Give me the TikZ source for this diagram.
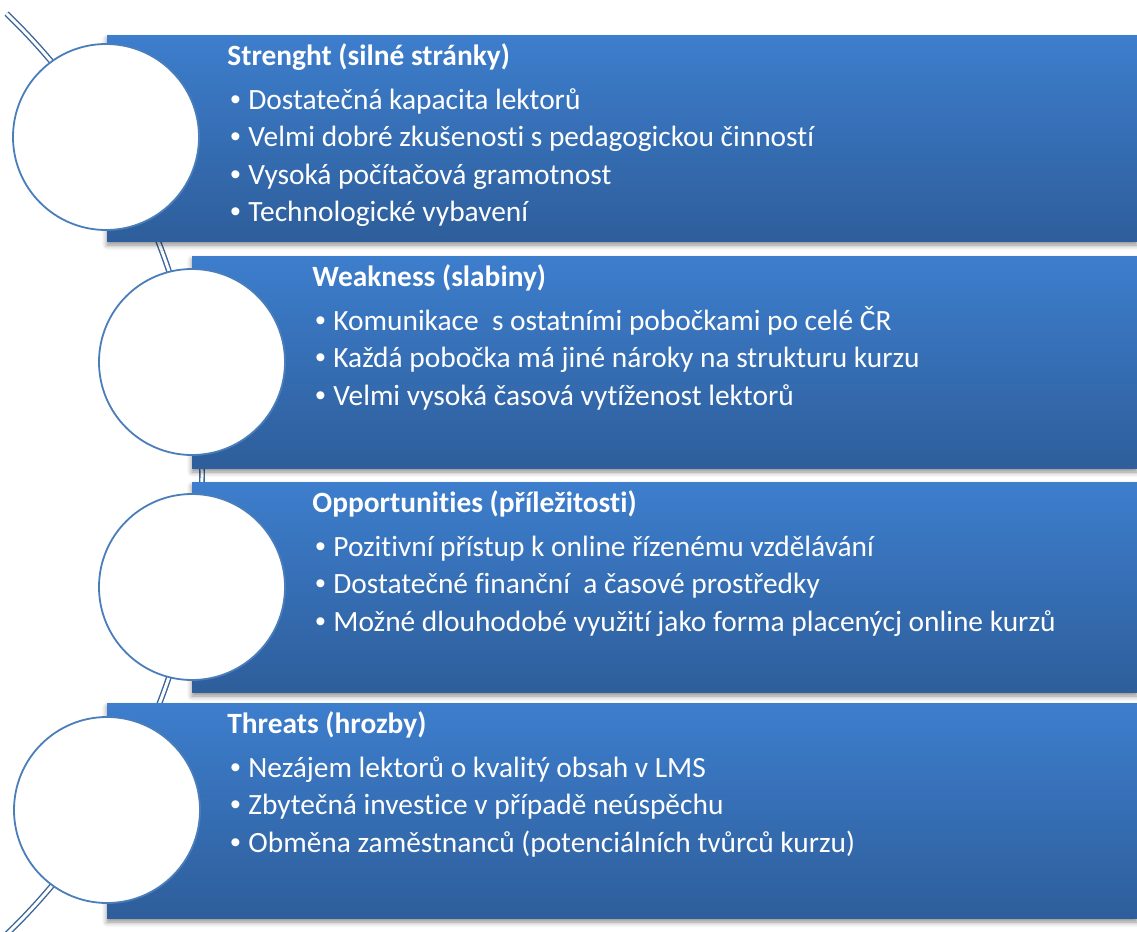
\documentclass[tikz,border=0pt]{standalone}
\usepackage{fontspec}
\setmainfont{Carlito}[Ligatures=NoCommon]
\newfontfamily\bulletfont{Liberation Sans}
\usetikzlibrary{shadows.blur}

\definecolor{boxtop}{HTML}{3D7ECD}
\definecolor{boxbot}{HTML}{2E5E9B}
\definecolor{ringcol}{HTML}{4A7EBB}
\definecolor{spinecol}{HTML}{3A6498}

\newcommand\itm[1]{\makebox[10.5pt][l]{\hspace{1.5pt}{\bulletfont\textbullet}}#1}

\begin{document}
\begin{tikzpicture}[x=0.5pt,y=-0.5pt,
  box/.style={anchor=north west, inner sep=0pt, outer sep=0pt,
    top color=boxtop, bottom color=boxbot,
    blur shadow={shadow xshift=0pt, shadow yshift=-2pt,
      shadow blur radius=2.5pt, shadow opacity=45}},
  ring/.style={circle, minimum size=93pt, inner sep=0pt,
    draw=ringcol, line width=0.9pt, fill=white},
  spine/.style={draw=spinecol, double=white, double distance=1.5pt, line width=0.7pt},
  txt/.style={anchor=base west, inner sep=0pt, text=white,
    font=\fontsize{14.7}{18.75}\selectfont}]
\useasboundingbox (0,0) rectangle (1137,932);

% arc behind everything
\coordinate (hub) at (-438,474);
\draw[spine] (hub) ++(-46:640) arc[start angle=-46, end angle=46, radius=640];

% boxes
\node[box, minimum width=515pt, minimum height=103pt] (strength) at (107,35) {};
\node[box, minimum width=472.5pt, minimum height=106pt] (weakness) at (192,256) {};
\node[box, minimum width=472.5pt, minimum height=105pt] (opport) at (192,482) {};
\node[box, minimum width=515pt, minimum height=107.5pt] (threats) at (107,703) {};

% circles on the arc
\node[ring] (strength-c) at (106,137) {};
\node[ring] (weakness-c) at (192,362) {};
\node[ring] (opport-c) at (192,587) {};
\node[ring] (threats-c) at (107,810) {};

\node[txt] (strength-t) at (227,65) {%
\begin{tabular}[t]{@{}l@{}}
\textbf{Strenght (silné stránky)}\\[3.25pt]
\itm{Dostatečná kapacita lektorů}\\
\itm{Velmi dobré zkušenosti s pedagogickou činností}\\
\itm{Vysoká počítačová gramotnost}\\
\itm{Technologické vybavení}
\end{tabular}};

\node[txt] (weakness-t) at (312,286) {%
\begin{tabular}[t]{@{}l@{}}
\textbf{Weakness (slabiny)}\\[3.25pt]
\itm{Komunikace \ s ostatními pobočkami po celé ČR}\\
\itm{Každá pobočka má jiné nároky na strukturu kurzu}\\
\itm{Velmi vysoká časová vytíženost lektorů}
\end{tabular}};

\node[txt] (opport-t) at (312,512) {%
\begin{tabular}[t]{@{}l@{}}
\textbf{Opportunities (příležitosti)}\\[3.25pt]
\itm{Pozitivní přístup k online řízenému vzdělávání}\\
\itm{Dostatečné finanční \ a časové prostředky}\\
\itm{Možné dlouhodobé využití jako forma placenýcj online kurzů}
\end{tabular}};

\node[txt] (threats-t) at (227,733) {%
\begin{tabular}[t]{@{}l@{}}
\textbf{Threats (hrozby)}\\[3.25pt]
\itm{Nezájem lektorů o kvalitý obsah v LMS}\\
\itm{Zbytečná investice v případě neúspěchu}\\
\itm{Obměna zaměstnanců (potenciálních tvůrců kurzu)}
\end{tabular}};
\end{tikzpicture}
\end{document}
